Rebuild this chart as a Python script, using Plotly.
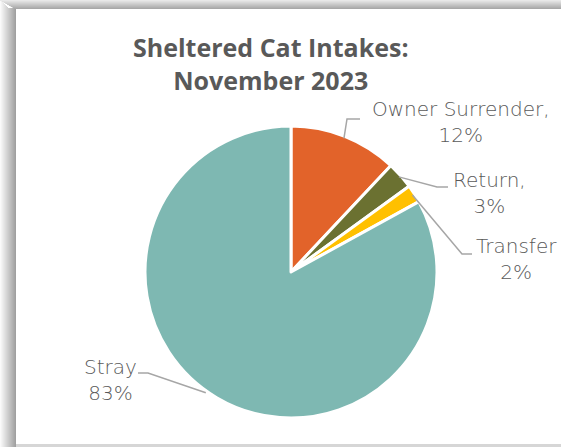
import math
import plotly.graph_objects as go

# ---- data ----
categories = ["Owner Surrender", "Return", "Transfer", "Stray"]
values = [12, 3, 2, 83]
colors = ["#E2632A", "#6B7131", "#FFC000", "#7EB8B2"]
label_texts = ["Owner Surrender,<br>12%", "Return,<br>3%", "Transfer<br>2%", "Stray<br>83%"]
title_text = "Sheltered Cat Intakes:<br>November 2023"

W, H = 561, 447
CX, CY, R = 291, 272, 146

def px(x):
    return x / W

def py(y):
    return 1 - y / H

fig = go.Figure()
fig.add_trace(go.Pie(
    labels=categories,
    values=values,
    marker=dict(colors=colors, line=dict(color="white", width=3)),
    sort=False,
    direction="clockwise",
    rotation=0,
    textinfo="none",
    hoverinfo="label+percent",
    showlegend=False,
    domain=dict(x=[px(CX - R), px(CX + R)], y=[py(CY + R), py(CY - R)]),
))

shapes = []
# frame shadow (styling)
for i in range(16):
    g = int(250 - i * 6)
    shapes.append(dict(type="rect", xref="paper", yref="paper",
                       x0=px(i), x1=px(i + 1), y0=py(447), y1=py(min(i, 8)),
                       line=dict(width=0), fillcolor=f"rgb({g},{g},{g})", layer="below"))
for j in range(9):
    g = int(232 - j * 8)
    shapes.append(dict(type="rect", xref="paper", yref="paper",
                       x0=px(j * 16 / 9), x1=px(561), y0=py(j + 1), y1=py(j),
                       line=dict(width=0), fillcolor=f"rgb({g},{g},{g})", layer="below"))
shapes.append(dict(type="rect", xref="paper", yref="paper",
                   x0=px(16), x1=px(561), y0=py(447), y1=py(444),
                   line=dict(width=0), fillcolor="#D6D6D6", layer="below"))

# leader lines: start at slice mid-angle on the rim, elbow and end are layout constants
elbows = [((347, 119), (360, 119)), ((437, 187), (448, 187)),
          ((462, 254), (472, 254)), ((148, 373), (138, 373))]
total = sum(values)
cum = 0
starts = []
for v in values:
    mid = (cum + v / 2) / total * 2 * math.pi
    cum += v
    starts.append((CX + R * 0.985 * math.sin(mid), CY - R * 0.985 * math.cos(mid)))
starts[3] = (starts[3][0] - 12, starts[3][1] - 3)

for (sx, sy), ((ex, ey), (fx, fy)) in zip(starts, elbows):
    path = f"M {px(sx)},{py(sy)} L {px(ex)},{py(ey)} L {px(fx)},{py(fy)}"
    shapes.append(dict(type="path", xref="paper", yref="paper", path=path,
                       line=dict(color="#A6A6A6", width=1.5)))

label_pos = [(461, 122), (489, 193), (516, 259), (110, 380)]
annotations = []
for t, (lx, ly) in zip(label_texts, label_pos):
    annotations.append(dict(text=t, x=px(lx), y=py(ly), xref="paper", yref="paper",
                            showarrow=False, align="center", xanchor="center", yanchor="middle",
                            font=dict(family="'DejaVu Sans', sans-serif", size=20,
                                      color="#595959", weight=200)))

annotations.append(dict(text=f"<b>{title_text}</b>", x=px(271), y=py(64), xref="paper", yref="paper",
                        showarrow=False, align="center", xanchor="center", yanchor="middle",
                        font=dict(family="'Open Sans', sans-serif", size=25, color="#595959")))

fig.update_layout(
    width=W, height=H,
    margin=dict(l=0, r=0, t=0, b=0),
    paper_bgcolor="white",
    plot_bgcolor="white",
    shapes=shapes,
    annotations=annotations,
)

fig.write_html("out.html", config={"displayModeBar": False},
               post_script="document.body.style.margin='0';")
